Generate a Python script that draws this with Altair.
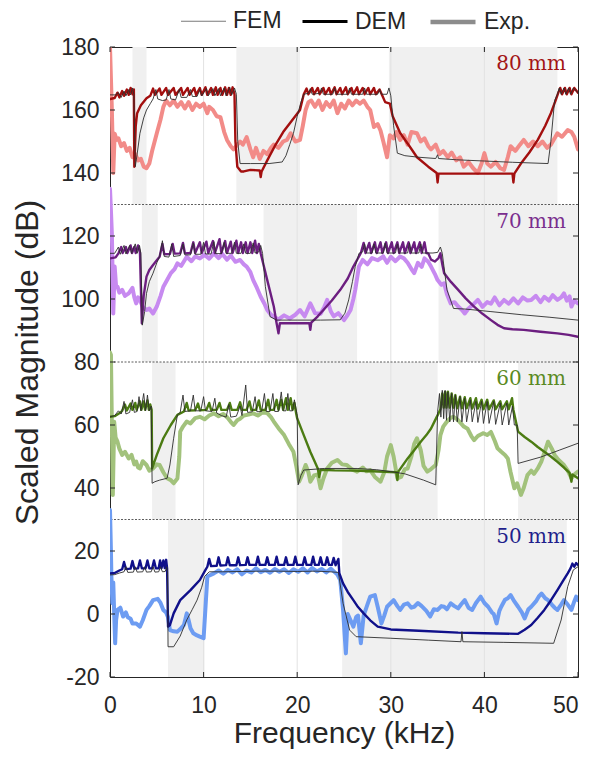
import altair as alt
import pandas as pd

# ---------------- data ----------------
X_DOMAIN = [0, 50]
Y_DOMAIN = [-20, 180]
X_TICKS = [0, 10, 20, 30, 40, 50]
Y_TICKS = [-20, 0, 20, 40, 60, 80, 100, 120, 140, 160, 180]
GRID_X = [10, 20, 30, 40]
SEPARATORS = [130, 80, 30]

PANEL_NAMES = ["80 mm", "70 mm", "60 mm", "50 mm"]
PANEL_TOPS = [180, 130, 80, 30]
PANEL_BOTTOMS = [130, 80, 30, -20]
LABEL_COLORS = ["#A31515", "#7A2E8E", "#5A8A22", "#1F1F8C"]

BANDS_80 = [(2.4, 3.9), (13.5, 20.3), (29.8, 47.8)]
BANDS_70 = [(3.4, 5.1), (16.4, 26.4), (35.1, 50.0)]
BANDS_60 = [(4.5, 7.0), (20.0, 35.0), (43.6, 50.0)]
BANDS_50 = [(6.2, 10.1), (24.8, 48.8)]

LEGEND_NAMES = ["FEM", "DEM", "Exp."]
LEGEND_COLORS = ["#7A7A7A", "#000000", "#8C8C8C"]

EXP_80 = [(0.0, 180), (0.1, 170), (0.2, 160), (0.35, 140), (0.5, 152.5), (0.7, 150.5), (0.9, 151), (1.2, 148.5), (1.5, 149.5), (1.8, 147), (2.1, 148), (2.4, 145), (2.7, 146), (3.0, 144), (3.3, 144.5), (3.6, 142), (3.9, 141.5), (4.2, 143), (4.5, 147), (5.0, 152.6), (5.4, 157), (5.7, 161), (6.0, 163), (6.4, 161.5), (6.8, 163), (7.2, 161), (7.6, 162.5), (8.0, 160.5), (8.4, 162.5), (8.8, 160), (9.2, 162), (9.6, 161), (10.0, 162), (10.4, 159), (10.6, 161), (11.0, 160), (11.4, 158), (11.8, 157.7), (12.2, 153), (12.5, 150.5), (12.9, 148.5), (13.2, 147.5), (13.6, 149), (13.9, 150), (14.2, 149), (14.6, 151.4), (15.0, 147.5), (15.3, 145), (15.6, 148), (16.0, 144.5), (16.4, 147), (16.8, 146), (17.2, 148), (17.5, 149), (18.0, 148), (18.5, 150), (18.9, 150.5), (19.3, 152.6), (19.8, 150), (20.3, 150.5), (20.6, 155), (20.9, 160), (21.2, 162.5), (21.5, 163), (21.9, 161), (22.3, 163), (22.7, 160), (23.1, 162.5), (23.5, 161), (23.9, 163), (24.3, 159), (24.7, 162), (25.1, 160.5), (25.5, 163), (25.9, 161.5), (26.3, 163), (26.7, 162), (27.1, 163), (27.5, 161), (27.8, 160), (28.2, 154.6), (28.6, 155.5), (28.9, 153.5), (29.2, 150), (29.6, 145), (29.9, 152), (30.3, 151), (30.6, 153), (31.0, 150.5), (31.4, 152), (31.8, 149), (32.2, 153), (32.8, 152.6), (33.2, 150), (33.6, 151), (34.0, 148.5), (34.3, 147.5), (34.8, 149), (35.2, 146), (35.6, 147), (36.1, 145), (36.5, 146.5), (37.0, 144), (37.4, 145), (37.8, 142), (38.3, 143.5), (38.8, 141.5), (39.3, 140), (39.7, 143), (40.0, 146.3), (40.3, 143), (40.7, 142), (41.2, 143.5), (41.7, 141.5), (42.1, 141), (42.5, 145), (42.8, 148.5), (43.3, 147), (43.8, 149), (44.2, 150.5), (44.7, 148.5), (45.2, 150), (45.7, 148.5), (46.2, 150), (46.7, 148), (47.1, 149), (47.5, 151), (47.8, 152.6), (48.3, 151.5), (48.9, 153.6), (49.3, 153), (49.6, 151.5), (50.0, 147.5)]

DEM_80 = [(0.0, 163.5), (0.5, 163.8), (0.8, 165.5), (1.0, 164), (1.3, 166), (1.5, 164.5), (1.8, 166.5), (2.0, 164.8), (2.2, 167), (2.4, 165), (2.55, 166.5), (2.6, 142), (2.75, 155), (2.9, 159), (3.3, 161.5), (3.9, 163.7), (4.3, 164.5), (4.6, 166.8), (4.8, 164.8), (5.3, 166.8), (5.5, 164.8), (6.0, 167), (6.2, 164.8), (6.8, 167), (7.0, 164.8), (7.6, 167), (7.8, 164.8), (8.3, 167), (8.5, 164.8), (9.0, 167), (9.2, 164.8), (9.6, 167), (9.8, 164.8), (10.2, 167.2), (10.4, 164.8), (10.8, 167), (11.0, 164.8), (11.3, 167.2), (11.5, 164.8), (11.8, 167), (12.0, 164.8), (12.3, 167.2), (12.5, 164.8), (12.7, 167), (12.9, 164.8), (13.1, 167.2), (13.3, 165), (13.4, 150), (13.6, 142), (14.0, 140.5), (14.3, 140.5), (15.0, 141), (16.0, 140.8), (16.1, 138.7), (16.2, 140.5), (16.8, 144), (17.6, 148.5), (18.5, 153), (19.4, 156.5), (20.3, 160), (20.7, 165), (21.0, 166.8), (21.2, 165), (21.6, 167), (21.8, 165), (22.2, 167), (22.4, 165), (22.8, 167), (23.0, 165), (23.4, 167), (23.6, 165), (24.0, 167.2), (24.2, 165), (24.6, 167), (24.8, 165), (25.2, 167.2), (25.4, 165), (25.8, 167), (26.0, 165), (26.4, 167.2), (26.6, 165), (27.0, 167), (27.2, 165), (27.6, 167), (27.8, 165), (28.2, 167), (28.4, 165), (28.8, 166.5), (29.1, 164.5), (29.4, 162.5), (29.9, 162), (30.2, 158), (31.0, 152.7), (32.0, 148.5), (32.8, 145), (34.0, 142), (34.9, 140), (35.0, 137), (35.1, 139.8), (38.0, 139.8), (43.0, 139.8), (43.1, 137), (43.2, 139.8), (43.9, 143), (44.8, 146.5), (45.7, 150.5), (46.5, 155), (47.1, 159), (47.6, 163), (47.9, 165.5), (48.1, 167), (48.3, 165), (48.6, 167), (48.8, 165), (49.1, 167), (49.3, 165), (49.6, 167), (50.0, 165.5)]

FEM_80 = [(0.0, 164.8), (0.6, 164.8), (0.9, 165.5), (1.2, 164), (1.5, 166), (1.7, 164.5), (2.0, 166.5), (2.2, 164.8), (2.4, 167), (2.55, 165), (2.7, 142), (2.9, 146), (3.2, 152.6), (3.6, 157.5), (3.9, 160), (4.3, 162), (4.6, 163.5), (4.9, 166.5), (5.1, 163.5), (5.6, 163), (6.0, 163.2), (6.3, 166.5), (6.5, 163.5), (7.0, 163.2), (7.4, 166.5), (7.6, 164), (8.2, 164), (8.6, 166.5), (8.8, 164.3), (9.3, 164.3), (9.6, 166.5), (9.8, 164.5), (10.3, 166.8), (10.5, 164.5), (11.0, 166.8), (11.2, 164.5), (11.6, 166.8), (11.8, 164.5), (12.2, 167), (12.4, 164.5), (12.8, 167.2), (13.0, 164.8), (13.3, 167), (13.5, 165), (13.65, 150), (13.9, 143), (15.0, 143), (17.0, 143), (18.4, 143.5), (18.8, 145.5), (19.2, 149), (19.6, 152.6), (20.0, 158), (20.4, 162.5), (20.7, 165), (21.2, 165.3), (21.4, 166.8), (21.6, 165), (22.4, 165.3), (22.6, 167), (22.8, 165), (23.8, 165), (24.0, 167), (24.2, 165), (25.4, 165), (25.6, 167), (25.8, 165), (27.0, 165), (27.2, 167), (27.4, 165), (28.6, 165), (28.8, 166.5), (29.0, 165), (29.6, 165), (29.8, 167), (30.0, 164.5), (30.3, 155), (30.7, 146.3), (31.5, 145.5), (33.0, 145), (34.8, 144.6), (35.0, 145.8), (35.1, 144.6), (37.0, 144.2), (40.0, 143.8), (43.0, 143.4), (46.8, 143), (47.1, 150), (47.5, 163), (47.8, 165), (48.0, 167), (48.2, 165), (48.5, 167), (48.7, 165), (49.0, 167), (49.2, 165), (49.5, 167), (50.0, 165.5)]

EXP_70 = [(0.0, 135), (0.1, 128), (0.2, 120.8), (0.35, 95.4), (0.5, 110.3), (0.65, 104), (0.8, 103.9), (1.0, 102), (1.3, 102.9), (1.6, 101), (2.0, 101.8), (2.4, 103.5), (2.6, 100.5), (2.8, 98.6), (3.0, 100.5), (3.2, 99.7), (3.5, 97.5), (3.9, 96.5), (4.2, 97), (4.6, 95.4), (5.0, 97.6), (5.4, 101), (5.7, 103.9), (6.1, 106), (6.5, 108.2), (6.9, 109.5), (7.2, 111.3), (7.6, 110.5), (8.2, 113.4), (8.7, 112), (9.1, 113.5), (9.6, 112.9), (10.1, 114), (10.6, 112.8), (11.1, 114.5), (11.6, 113), (12.0, 114.3), (12.5, 112.5), (12.9, 113.8), (13.4, 111.8), (13.9, 112.4), (14.3, 111), (14.6, 110.3), (15.0, 108.5), (15.3, 106), (15.7, 103.5), (16.1, 100.7), (16.5, 98.5), (16.8, 96.5), (17.2, 95), (17.5, 94.4), (18.0, 93.5), (18.6, 94.8), (19.2, 93.8), (19.8, 95), (20.3, 96.5), (20.8, 94.5), (21.4, 98.6), (21.9, 95.5), (22.5, 95.3), (22.9, 97.5), (23.2, 99.7), (23.6, 96), (23.9, 94.5), (24.4, 95.5), (25.0, 93.3), (25.4, 95), (25.7, 96.5), (26.0, 100), (26.2, 102.9), (26.6, 110.3), (27.0, 112.4), (27.5, 111), (28.0, 113), (28.6, 112.3), (29.2, 113.5), (29.6, 111.5), (30.0, 113.4), (30.5, 112), (31.0, 113.5), (31.4, 112.9), (31.8, 111.5), (32.2, 109.5), (32.5, 108.2), (32.9, 111.5), (33.3, 110.2), (33.6, 112.9), (34.0, 111.8), (34.3, 110.3), (34.7, 108), (35.0, 106), (35.4, 104.5), (35.7, 105), (36.0, 101.5), (36.4, 98.6), (36.8, 99), (37.2, 97.6), (37.6, 96.5), (37.9, 95.4), (38.3, 97), (38.8, 98.2), (39.3, 99.7), (39.8, 97.5), (40.3, 99), (40.7, 98.5), (41.1, 100.5), (41.6, 98), (42.1, 99.7), (42.6, 98.5), (43.1, 100.2), (43.6, 98.6), (44.1, 100.5), (44.6, 99.5), (45.0, 99.7), (45.5, 101), (46.0, 99), (46.4, 100.7), (46.9, 99.5), (47.3, 101.2), (47.8, 99.7), (48.2, 100.5), (48.5, 101.8), (48.8, 99.5), (49.1, 100.8), (49.3, 97.6), (49.6, 99.5), (50.0, 98.6)]

DEM_70 = [(0.0, 112.9), (0.6, 113.2), (0.9, 114.5), (1.2, 116.5), (1.35, 114.6), (1.7, 116.5), (1.85, 114.6), (2.2, 117), (2.35, 114.6), (2.6, 116.5), (2.75, 114.6), (3.0, 117), (3.2, 114.8), (3.4, 92.3), (3.6, 101), (3.9, 107.1), (4.2, 109.2), (4.6, 110.8), (5.0, 112.3), (5.3, 113.4), (5.6, 117.5), (5.8, 114.2), (6.4, 114.3), (6.7, 117.5), (6.9, 114.4), (7.5, 114.5), (7.8, 117.8), (8.0, 114.5), (8.6, 114.6), (8.9, 118), (9.1, 114.6), (9.6, 118), (9.8, 114.6), (10.3, 118.2), (10.5, 114.6), (11.0, 118.4), (11.2, 114.6), (11.7, 119), (11.9, 114.6), (12.3, 118.4), (12.5, 114.6), (12.9, 118.2), (13.1, 114.6), (13.5, 118.5), (13.7, 114.6), (14.0, 118), (14.2, 114.6), (14.5, 118), (14.7, 114.6), (15.0, 118), (15.2, 114.6), (15.5, 118.5), (15.7, 114.6), (15.9, 117.5), (16.1, 114.5), (16.8, 106), (17.5, 97.6), (17.8, 92.3), (18.0, 89.1), (18.15, 92.3), (19.5, 92.3), (21.3, 92.3), (21.4, 90.2), (21.5, 92.5), (22.2, 94.5), (22.8, 96.5), (23.7, 99.5), (24.6, 102.9), (25.4, 106.5), (26.0, 110.3), (26.6, 113.5), (26.8, 114.6), (27.1, 117.8), (27.3, 114.6), (27.7, 117.8), (27.9, 114.6), (28.3, 118), (28.5, 114.6), (28.9, 118), (29.1, 114.6), (29.5, 118), (29.7, 114.6), (30.1, 118), (30.3, 114.6), (30.7, 118), (30.9, 114.6), (31.3, 118), (31.5, 114.6), (31.9, 118), (32.1, 114.6), (32.5, 118), (32.7, 114.6), (33.1, 118), (33.3, 114.6), (33.6, 118), (33.8, 114.6), (34.0, 114.5), (34.3, 112.5), (34.7, 111.9), (35.1, 113), (35.3, 114.5), (35.5, 111), (35.7, 108.2), (36.4, 105.5), (37.2, 102.9), (38.0, 100.2), (38.9, 97.6), (39.8, 95.3), (40.7, 93.3), (41.4, 91.8), (42.1, 90.7), (43.0, 90.4), (44.2, 90.2), (46.0, 89.6), (47.8, 89.1), (49.0, 88.6), (50.0, 88.0)]

FEM_70 = [(0.0, 114.5), (0.5, 114.5), (0.9, 116.5), (1.1, 114.2), (1.5, 117), (1.7, 114.3), (2.1, 117), (2.3, 114.5), (2.7, 117.5), (2.9, 114.5), (3.15, 117), (3.3, 114.5), (3.45, 91.7), (3.7, 96), (3.9, 101.8), (4.2, 105.5), (4.6, 108.2), (5.0, 111.5), (5.3, 113.5), (5.6, 118.5), (5.8, 113.5), (6.3, 113.3), (6.6, 117.5), (6.8, 113.5), (7.5, 113.8), (7.8, 117.5), (8.0, 114), (8.6, 114), (8.9, 117.8), (9.1, 114.2), (9.7, 114.2), (10.0, 118), (10.2, 114.3), (10.8, 114.3), (11.1, 118.2), (11.3, 114.4), (11.9, 114.4), (12.2, 118), (12.4, 114.5), (13.0, 114.5), (13.3, 118), (13.5, 114.5), (14.0, 114.5), (14.3, 117.5), (14.5, 114.5), (15.0, 114.5), (15.3, 117.8), (15.5, 114.6), (15.9, 115), (16.1, 117), (16.3, 114.5), (16.6, 103.9), (17.1, 94.4), (17.8, 93.3), (20.0, 93.3), (22.5, 93.3), (24.6, 93.4), (25.1, 95.5), (25.5, 99.7), (25.9, 105.5), (26.2, 110.3), (26.6, 114.5), (27.0, 115), (27.2, 117.5), (27.4, 114.6), (28.0, 114.6), (28.2, 117.5), (28.4, 114.6), (29.2, 114.6), (29.4, 117.8), (29.6, 114.6), (30.5, 114.6), (30.7, 117.5), (30.9, 114.6), (31.8, 114.6), (32.0, 117.8), (32.2, 114.6), (33.0, 114.6), (33.2, 117.5), (33.4, 114.6), (34.5, 114.6), (35.0, 114.8), (35.3, 116.5), (35.5, 114.5), (36.0, 102.9), (36.7, 97.0), (38.0, 96.8), (40.7, 96.0), (44.0, 95.0), (47.0, 94.2), (50.0, 93.3)]

EXP_60 = [(0.0, 83), (0.1, 82.2), (0.2, 60), (0.3, 37.8), (0.45, 61), (0.6, 56), (0.8, 54.7), (1.0, 52.5), (1.3, 50.5), (1.6, 51.5), (2.0, 49.4), (2.3, 50.5), (2.6, 47.5), (2.8, 48.4), (3.0, 46.5), (3.2, 46.2), (3.5, 48.5), (3.9, 47.3), (4.2, 45.5), (4.6, 46.2), (5.0, 47.5), (5.3, 47.3), (5.7, 45), (6.1, 43.1), (6.5, 42.5), (6.8, 41.5), (7.2, 43), (7.4, 50), (7.5, 57.9), (7.8, 59.5), (8.2, 61.1), (8.6, 60.5), (9.1, 62.2), (9.6, 62.6), (10.1, 61.8), (10.6, 63), (11.1, 63.7), (11.6, 62.8), (12.1, 63.5), (12.5, 62.5), (12.9, 61), (13.2, 60), (13.6, 61.5), (13.9, 62), (14.3, 63), (14.8, 63.3), (15.3, 63.7), (15.8, 63), (16.3, 64), (16.8, 63.8), (17.2, 62.5), (17.5, 61.1), (18.0, 59), (18.6, 56.8), (19.1, 54), (19.6, 51.5), (19.9, 47), (20.2, 42), (20.5, 44), (20.9, 47.3), (21.2, 45), (21.4, 42), (21.8, 44), (22.2, 44.3), (22.5, 39.9), (22.8, 43), (23.2, 46.2), (23.7, 48), (24.3, 48.9), (24.8, 47.5), (25.3, 47.3), (25.8, 46), (26.4, 45.2), (27.0, 46.5), (27.4, 45.3), (27.8, 45.7), (28.3, 43.5), (28.9, 42), (29.3, 45), (29.6, 50), (30.0, 53.6), (30.3, 50), (30.7, 43.1), (31.1, 43.5), (31.5, 46), (31.8, 46.2), (32.2, 50), (32.5, 54), (32.8, 55.8), (33.2, 52), (33.5, 47), (33.9, 45.2), (34.3, 46), (34.8, 47.3), (35.1, 52), (35.3, 56.8), (35.6, 59.5), (36.0, 61.1), (36.4, 62.3), (36.7, 62.6), (37.1, 61.8), (37.5, 60.5), (37.8, 59.5), (38.2, 58.8), (38.6, 56.5), (38.9, 55.2), (39.3, 56.5), (39.6, 57), (39.9, 57.4), (40.3, 56.8), (40.7, 57.8), (41.1, 55), (41.4, 52.6), (41.8, 51.5), (42.2, 50.5), (42.5, 49.4), (42.8, 45), (43.2, 39.9), (43.5, 41.5), (43.9, 37.8), (44.2, 40), (44.6, 44.1), (45.0, 45.5), (45.3, 44.5), (45.7, 46.2), (46.1, 48.5), (46.5, 52), (46.8, 54.7), (47.2, 52.5), (47.5, 50.5), (47.9, 49), (48.5, 47.3), (48.9, 45.5), (49.3, 43.1), (49.7, 44.5), (50.0, 45.2)]

DEM_60 = [(0.0, 62.6), (0.5, 62.8), (1.0, 63.7), (1.3, 64.5), (1.6, 66.5), (1.8, 64.6), (2.2, 66.8), (2.4, 64.8), (2.7, 67), (2.85, 64.8), (3.2, 67.5), (3.35, 64.8), (3.6, 67.5), (3.75, 64.8), (4.0, 67.8), (4.15, 64.8), (4.3, 66.5), (4.45, 64.8), (4.5, 46.2), (5.0, 50.5), (5.7, 55.8), (6.5, 60.0), (7.2, 63.2), (7.9, 64.3), (8.2, 67), (8.4, 64.6), (9.1, 64.7), (9.4, 66.8), (9.6, 64.7), (10.3, 64.8), (10.6, 67), (10.8, 64.8), (11.4, 64.8), (11.7, 67), (11.9, 64.8), (12.5, 64.8), (12.8, 67), (13.0, 64.8), (13.6, 64.8), (13.9, 67.2), (14.1, 64.8), (14.6, 64.8), (14.9, 67.5), (15.1, 64.8), (15.6, 64.8), (15.9, 67.8), (16.1, 64.8), (16.6, 64.8), (16.9, 68), (17.1, 64.8), (17.5, 64.8), (17.8, 68), (18.0, 64.8), (18.3, 68), (18.5, 64.8), (18.8, 68.5), (19.0, 64.8), (19.3, 68.5), (19.5, 64.8), (19.7, 67), (19.9, 63.5), (20.0, 62.1), (20.7, 56.8), (21.4, 51.5), (22.2, 46.2), (22.35, 43.5), (22.5, 45.8), (24.0, 45.6), (26.0, 45.5), (28.0, 45.3), (30.6, 45.0), (30.7, 42.5), (30.8, 45.2), (31.8, 49.4), (32.5, 52), (33.2, 54.7), (33.8, 56.8), (34.3, 58.9), (34.7, 61.3), (35.1, 63.7), (35.3, 65), (35.5, 70), (35.65, 65.5), (35.8, 70.5), (35.95, 65.5), (36.1, 70.6), (36.3, 65.5), (36.5, 70), (36.7, 65.5), (36.9, 69.5), (37.1, 65.3), (37.4, 69), (37.6, 65.3), (37.9, 68.8), (38.1, 65.3), (38.5, 68.5), (38.7, 65.2), (39.1, 68.5), (39.3, 65.2), (39.7, 68), (39.9, 65), (40.3, 68), (40.5, 65), (41.0, 67.8), (41.2, 65), (41.7, 67.5), (41.9, 65), (42.4, 67.5), (42.6, 65), (42.95, 68.5), (43.1, 64.8), (43.6, 57.9), (44.3, 56.2), (45.0, 54.7), (45.7, 53), (46.4, 51.5), (47.1, 50), (47.8, 48.3), (48.5, 46.5), (49.1, 44.8), (49.3, 42), (49.4, 44.3), (50.0, 43.1)]

FEM_60 = [(0.0, 62.6), (0.5, 63), (0.9, 64.5), (1.2, 63.5), (1.5, 67.5), (1.7, 63.5), (2.1, 64), (2.4, 68), (2.6, 64), (2.9, 64.3), (3.1, 69), (3.3, 64.5), (3.6, 70), (3.8, 64.5), (4.0, 69.5), (4.2, 64.5), (4.4, 66), (4.5, 41.5), (4.8, 42), (5.3, 42.5), (6.1, 43.1), (6.4, 47.3), (6.8, 55.8), (7.2, 63.2), (7.5, 64), (7.8, 69.5), (8.0, 64.3), (8.6, 64.5), (8.9, 69.5), (9.1, 64.5), (9.7, 64.5), (10.0, 69), (10.2, 64.5), (10.9, 64.3), (11.2, 68.5), (11.4, 63.8), (11.9, 63), (12.4, 62.5), (12.7, 66.5), (12.9, 62.5), (13.5, 62.8), (13.9, 66), (14.1, 63), (14.5, 72.7), (14.7, 64), (15.2, 64.2), (15.5, 69), (15.7, 64.2), (16.2, 64.3), (16.5, 70), (16.7, 64.3), (17.1, 64.3), (17.4, 70), (17.6, 64.3), (18.0, 64.3), (18.3, 70.5), (18.5, 64.5), (18.8, 64.5), (19.0, 70), (19.2, 64.5), (19.5, 64.5), (19.7, 68), (20.0, 63), (20.1, 41), (20.4, 44), (20.7, 45.7), (22.9, 46.2), (26.4, 46.2), (28.5, 45.8), (30.0, 45.2), (31.5, 44.5), (33.5, 42.5), (34.8, 41.0), (35.0, 64.2), (35.2, 70), (35.35, 62.5), (35.5, 71), (35.65, 62), (35.8, 71), (35.95, 61.5), (36.1, 70.5), (36.3, 61), (36.5, 70), (36.7, 61), (36.9, 69.5), (37.1, 61), (37.4, 69), (37.6, 61), (37.9, 68.5), (38.1, 61), (38.5, 68), (38.7, 61), (39.1, 67.5), (39.3, 60.8), (39.7, 67.5), (39.9, 60.5), (40.3, 67.5), (40.5, 60.5), (41.0, 67.5), (41.2, 60.2), (41.7, 67), (41.9, 60), (42.4, 67), (42.6, 60), (43.0, 66), (43.2, 60), (43.5, 60), (43.6, 47.8), (46.0, 49.8), (48.0, 52), (50.0, 54.2)]

EXP_50 = [(0.0, 33), (0.1, 20), (0.15, 11.9), (0.25, 3.4), (0.35, 10), (0.45, 0), (0.55, -9.3), (0.65, -2), (0.8, 1.3), (1.1, 2), (1.4, -0.8), (1.7, 0.5), (1.9, -1), (2.2, -1.5), (2.4, -3.0), (2.8, -3), (3.2, -4), (3.5, -2), (3.9, 1.3), (4.2, 2.5), (4.6, 4.4), (5.1, 4.8), (5.4, 3.5), (5.7, 1.3), (6.0, 0.5), (6.2, -1), (6.4, -5.1), (6.8, -5.5), (7.2, -5.6), (7.6, -4.5), (7.9, -3.5), (8.2, 0.2), (8.4, -2), (8.6, -4.5), (8.9, -6.1), (9.3, -6.8), (9.6, -7.2), (10.0, -7.7), (10.2, 2), (10.4, 11.9), (11.1, 12.9), (11.6, 13.8), (12.1, 12.8), (12.6, 14), (13.1, 13.2), (13.6, 14.2), (14.1, 12.6), (14.6, 13.8), (15.1, 13.2), (15.6, 14.5), (16.1, 13.3), (16.6, 14), (17.1, 13.1), (17.6, 14.3), (18.1, 13.4), (18.6, 14.2), (19.1, 13), (19.6, 14.2), (20.1, 13.4), (20.6, 14.5), (21.1, 13.2), (21.6, 14.6), (22.1, 13.5), (22.6, 14.3), (23.1, 13.2), (23.6, 14.4), (24.0, 13.3), (24.3, 12.5), (24.6, 10.8), (24.9, 1.3), (25.2, -12.5), (25.4, 0), (25.7, -2), (26.0, -4), (26.3, -1), (26.5, -0.5), (26.8, -9.3), (27.1, -0.5), (27.5, 3), (27.8, 5.5), (28.3, 6.0), (28.6, 2.3), (29.0, -3), (29.3, -0.5), (29.6, 2.3), (30.0, 3.5), (30.3, 4.4), (30.7, 2.5), (31.0, 1.3), (31.4, 3), (31.8, 3.4), (32.2, 2), (32.5, 2.3), (32.9, 3.5), (33.3, 2.5), (33.8, 1), (34.2, -0.8), (34.6, 1.5), (35.0, 1.3), (35.4, 2.5), (35.7, 2.3), (36.0, 1.5), (36.4, 3.4), (36.8, 2.5), (37.2, 1.8), (37.5, 3), (37.9, 4.4), (38.3, 2), (38.7, 1.3), (39.1, 3.5), (39.6, 5.5), (40.0, 3.5), (40.4, 2.3), (40.8, 0.5), (41.0, 0), (41.3, -3.0), (41.6, 1), (41.8, 2.3), (42.2, 4.5), (42.5, 5), (42.8, 6.0), (43.2, 4), (43.6, 2.3), (44.0, 0.5), (44.3, -1.4), (44.7, 1.5), (45.0, 2.3), (45.5, 4), (45.8, 5.5), (46.1, 6.5), (46.5, 5.0), (46.8, 4.4), (47.2, 3), (47.5, 2), (47.8, 1.3), (48.2, 3), (48.5, 4.4), (48.9, 3), (49.3, 1.3), (49.6, 4), (49.8, 5.5), (50.0, 4.4)]

DEM_50 = [(0.0, 12.9), (0.5, 13), (1.0, 13.8), (1.3, 14.2), (1.5, 16.5), (1.7, 14.3), (2.2, 14.4), (2.4, 16.8), (2.6, 14.4), (3.0, 14.5), (3.2, 17), (3.4, 14.5), (3.8, 14.5), (4.0, 17), (4.2, 14.5), (4.5, 14.5), (4.7, 17), (4.9, 14.5), (5.2, 14.5), (5.35, 17), (5.5, 14.5), (5.7, 17), (5.85, 14.6), (6.0, 17.2), (6.1, 14.5), (6.2, -4), (6.4, -3.5), (6.8, 0.2), (7.5, 4.4), (8.6, 7.6), (9.6, 10.8), (10.2, 14), (10.4, 15), (10.6, 17.5), (10.8, 15.2), (11.4, 15.3), (11.6, 18), (11.8, 15.4), (12.4, 15.5), (12.6, 18), (12.8, 15.5), (13.5, 15.5), (13.7, 18), (13.9, 15.5), (14.5, 15.6), (14.7, 18), (14.9, 15.6), (15.6, 15.6), (15.8, 18.2), (16.0, 15.6), (16.6, 15.6), (16.8, 18), (17.0, 15.6), (17.6, 15.6), (17.8, 18.2), (18.0, 15.6), (18.6, 15.6), (18.8, 18), (19.0, 15.6), (19.6, 15.6), (19.8, 18.2), (20.0, 15.6), (20.6, 15.6), (20.8, 18), (21.0, 15.6), (21.5, 15.6), (21.7, 18.2), (21.9, 15.6), (22.3, 15.6), (22.5, 18), (22.7, 15.6), (23.0, 15.6), (23.2, 18), (23.4, 15.6), (23.7, 15.6), (23.9, 17.8), (24.1, 15.5), (24.4, 17.5), (24.5, 13), (24.9, 9.7), (25.4, 7), (26.0, 4.4), (26.5, 2.2), (27.1, 0.2), (27.8, -2), (28.6, -4), (30.0, -4.9), (33.0, -5.3), (37.2, -5.9), (40.0, -6.1), (43.6, -6.3), (44.3, -5), (45.0, -3.5), (45.7, -1.2), (46.4, 1.3), (47.1, 4.3), (47.8, 7.6), (48.4, 10.5), (48.9, 12.9), (49.2, 14.5), (49.4, 16), (49.6, 15), (49.8, 16.2), (50.0, 15.6)]

FEM_50 = [(0.0, 12.4), (0.5, 12.5), (1.0, 13), (1.5, 13.4), (1.7, 15), (1.9, 13.2), (2.5, 13.3), (2.7, 15), (2.9, 13.3), (3.5, 13.4), (3.7, 15), (3.9, 13.3), (4.4, 13.4), (4.6, 15), (4.8, 13.3), (5.2, 13.4), (5.4, 15), (5.6, 13.4), (5.9, 13.5), (6.05, 15), (6.15, 13.4), (6.2, -10.4), (6.8, -10.4), (7.5, -7), (8.2, -1.9), (8.8, 1.5), (9.3, 4.4), (9.8, 8.5), (10.1, 11.9), (10.6, 13.4), (12.0, 13.4), (14.0, 13.5), (16.0, 13.6), (18.0, 13.6), (20.0, 13.5), (22.0, 13.6), (23.5, 13.4), (24.4, 13.2), (24.9, 3.4), (25.6, -5.1), (26.3, -7.2), (30.0, -7.7), (34.0, -8.3), (37.5, -8.8), (37.6, -5.6), (37.7, -8.8), (42.0, -9.0), (47.4, -9.3), (48.2, -1.9), (48.9, 8.7), (49.5, 14), (50.0, 15)]

SERIES = [
    (EXP_80, DEM_80, FEM_80, "#F28B88", "#A30F0F"),
    (EXP_70, DEM_70, FEM_70, "#C78AF0", "#6C1E80"),
    (EXP_60, DEM_60, FEM_60, "#A2C27C", "#4B7B12"),
    (EXP_50, DEM_50, FEM_50, "#6D9CF2", "#10108A"),
]

# ---------------- chart ----------------
W, H = 468, 630
FONT = "Liberation Sans"
TXT = "#262626"

x_scale = alt.Scale(domain=X_DOMAIN, nice=False, zero=False)
y_scale = alt.Scale(domain=Y_DOMAIN, nice=False, zero=False)
x_axis = alt.Axis(values=X_TICKS, title="Frequency (kHz)", grid=False, ticks=False, domain=False,
                  labelFlush=False, labelFont=FONT, labelFontSize=23, labelColor=TXT, labelPadding=17,
                  labelExpr="'' + datum.value",
                  labelAlign={"expr": "datum.value == 50 ? 'right' : 'center'"},
                  titleFont=FONT, titleFontSize=30, titleFontWeight="normal", titleColor=TXT, titlePadding=1)
y_axis = alt.Axis(values=Y_TICKS, title="Scaled Magnitude (dB)", grid=False, ticks=False, domain=False,
                  labelFlush=False, labelFont=FONT, labelFontSize=23, labelColor=TXT, labelPadding=11,
                  labelExpr="'' + datum.value",
                  titleFont=FONT, titleFontSize=32, titleFontWeight="normal", titleColor=TXT, titlePadding=16)


def X(field):
    return alt.X(field, scale=x_scale, axis=x_axis)


def Y(field):
    return alt.Y(field, scale=y_scale, axis=y_axis)


band_rows = []
for bands, lo, hi in zip([BANDS_80, BANDS_70, BANDS_60, BANDS_50], PANEL_BOTTOMS, PANEL_TOPS):
    for a, b in bands:
        band_rows.append({"x0": a, "x1": b, "y0": lo, "y1": hi})
bands_layer = alt.Chart(pd.DataFrame(band_rows)).mark_rect(color="#F0F0F0").encode(
    x=X("x0:Q"), x2="x1:Q", y=Y("y0:Q"), y2="y1:Q")

grid_layer = alt.Chart(pd.DataFrame({"x": GRID_X})).mark_rule(color="#E2E2E2", strokeWidth=1).encode(x=X("x:Q"))

sep_layer = alt.Chart(pd.DataFrame({"y": SEPARATORS})).mark_rule(
    color="#333333", strokeWidth=0.8, strokeDash=[2, 1.5]).encode(y=Y("y:Q"))


def line(points, color, width):
    df = pd.DataFrame(points, columns=["x", "y"])
    df["i"] = range(len(df))
    return alt.Chart(df).mark_line(color=color, strokeWidth=width, clip=True,
                                   strokeJoin="round", strokeCap="round").encode(
        x=X("x:Q"), y=Y("y:Q"), order="i:Q")


exp_layers = [line(s[0], s[3], 4.0) for s in SERIES]
dem_layers = [line(s[1], s[4], 2.4) for s in SERIES]
fem_layers = [line(s[2], "#2E2E2E", 0.9) for s in SERIES]

labels_df = pd.DataFrame({"name": PANEL_NAMES, "top": PANEL_TOPS, "color": LABEL_COLORS})
labels_layer = alt.Chart(labels_df).mark_text(
    font="DejaVu Serif", fontSize=20, align="right", baseline="middle", dx=-12, dy=17).encode(
    x=alt.datum(X_DOMAIN[1]), y=Y("top:Q"), text="name:N", color=alt.Color("color:N", scale=None))

tick_style = dict(color=TXT, strokeWidth=1)
yt = pd.DataFrame({"y": Y_TICKS})
xt = pd.DataFrame({"x": X_TICKS})
ticks = [
    alt.Chart(yt).mark_rule(**tick_style).encode(y=Y("y:Q"), x=alt.value(0), x2=alt.value(5)),
    alt.Chart(yt).mark_rule(**tick_style).encode(y=Y("y:Q"), x=alt.value(W - 5), x2=alt.value(W)),
    alt.Chart(xt).mark_rule(**tick_style).encode(x=X("x:Q"), y=alt.value(0), y2=alt.value(5)),
    alt.Chart(xt).mark_rule(**tick_style).encode(x=X("x:Q"), y=alt.value(H - 5), y2=alt.value(H)),
]

legend_df = pd.DataFrame({"x": [None] * 3, "y": [None] * 3, "name": LEGEND_NAMES})
legend_def = alt.Legend(orient="none", legendX=70, legendY=-50, direction="horizontal", title=None,
                        symbolType="stroke", symbolSize=2025, labelFont=FONT, labelFontSize=23,
                        labelColor=TXT, labelOffset=6, columnPadding=14, padding=0)
legend_layer = alt.Chart(legend_df).mark_line().encode(
    x=X("x:Q"), y=Y("y:Q"),
    color=alt.Color("name:N", scale=alt.Scale(domain=LEGEND_NAMES, range=LEGEND_COLORS), legend=legend_def),
    strokeWidth=alt.StrokeWidth("name:N", scale=alt.Scale(domain=LEGEND_NAMES, range=[1.2, 4.5]),
                                legend=legend_def),
)

chart = alt.layer(
    bands_layer, grid_layer, sep_layer, *exp_layers, *dem_layers, *fem_layers,
    labels_layer, *ticks, legend_layer
).properties(
    width=W, height=H,
    autosize=alt.AutoSizeParams(type="none"),
    padding={"left": 102, "top": 39, "right": 5, "bottom": 75},
).configure_view(stroke=TXT, strokeWidth=1)

chart.save("out.html", embed_options={"renderer": "svg", "actions": False})
